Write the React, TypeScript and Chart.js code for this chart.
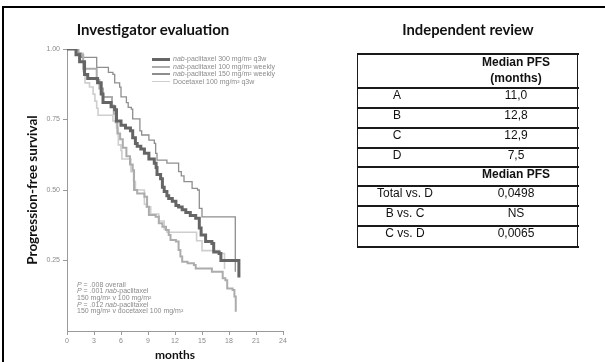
import React, { useEffect, useRef } from 'react';
import { Chart, registerables } from 'chart.js';

Chart.register(...registerables);

// ---- Data ----
const seriesLabels = [
  'nab-paclitaxel 300 mg/m² q3w',
  'nab-paclitaxel 100 mg/m² weekly',
  'nab-paclitaxel 150 mg/m² weekly',
  'Docetaxel 100 mg/m² q3w',
];
const seriesColors = ['#656565', '#acacac', '#8e8e8e', '#cecece'];
const seriesWidths = [3, 2, 1.3, 1.6];

const timesA = [0, 1.0, 1.4, 1.95, 2.3, 3.4, 3.8, 4.0, 4.9, 5.3, 5.5, 6.0, 6.5, 7.05, 7.3, 7.6, 7.8, 8.2, 8.6, 9.1, 9.7, 9.9, 10.0, 10.4, 10.6, 10.8, 11.1, 11.3, 11.7, 12.1, 12.4, 12.8, 13.2, 13.7, 14.3, 14.7, 14.9, 15.4, 16.1, 16.3, 16.9, 17.1, 19.1];
const survA = [1, 0.98, 0.955, 0.91, 0.895, 0.88, 0.84, 0.81, 0.795, 0.785, 0.745, 0.73, 0.72, 0.71, 0.685, 0.665, 0.655, 0.645, 0.63, 0.61, 0.595, 0.58, 0.555, 0.54, 0.51, 0.495, 0.48, 0.47, 0.46, 0.445, 0.44, 0.43, 0.42, 0.41, 0.4, 0.365, 0.34, 0.317, 0.31, 0.28, 0.275, 0.25, 0.19];

const timesB = [0, 1.2, 1.8, 3.3, 3.6, 4.0, 5.0, 5.2, 5.4, 5.6, 5.9, 6.2, 6.6, 7.0, 7.3, 7.45, 7.8, 8.6, 8.9, 9.1, 9.85, 10.2, 10.6, 11.0, 11.3, 11.5, 12.1, 12.4, 12.6, 12.8, 13.4, 14.1, 14.3, 16.1, 17.3, 17.6, 17.8, 18.4, 18.6, 18.75];
const survB = [1, 0.98, 0.93, 0.89, 0.86, 0.83, 0.8, 0.77, 0.74, 0.7, 0.68, 0.65, 0.62, 0.59, 0.57, 0.5, 0.488, 0.476, 0.441, 0.411, 0.405, 0.382, 0.37, 0.358, 0.34, 0.323, 0.317, 0.287, 0.264, 0.246, 0.24, 0.234, 0.222, 0.21, 0.187, 0.18, 0.151, 0.145, 0.122, 0.068];

const timesC = [0, 1.3, 1.6, 3.3, 4.6, 5.1, 5.3, 5.85, 6.0, 6.6, 6.8, 7.15, 7.3, 8.1, 8.3, 9.1, 9.7, 9.85, 10.0, 11.1, 12.4, 12.7, 13.0, 13.9, 14.5, 14.7, 15.0, 18.7];
const survC = [1, 0.985, 0.97, 0.935, 0.917, 0.91, 0.88, 0.865, 0.83, 0.81, 0.793, 0.787, 0.752, 0.71, 0.695, 0.677, 0.665, 0.63, 0.606, 0.595, 0.565, 0.55, 0.53, 0.506, 0.5, 0.435, 0.405, 0.21];

const timesD = [0, 1.0, 1.8, 2.0, 2.5, 2.9, 3.1, 3.3, 3.45, 5.1, 5.5, 5.7, 6.0, 6.1, 7.1, 7.4, 7.6, 8.6, 8.8, 9.3, 10.2, 10.8, 11.1, 14.4, 15.0, 16.9, 17.5];
const survD = [1, 0.985, 0.92, 0.88, 0.865, 0.84, 0.815, 0.79, 0.765, 0.745, 0.72, 0.66, 0.64, 0.61, 0.565, 0.53, 0.5, 0.45, 0.44, 0.415, 0.39, 0.36, 0.35, 0.32, 0.285, 0.275, 0.22];

const seriesTimes = [timesA, timesB, timesC, timesD];
const seriesSurv = [survA, survB, survC, survD];

const xTicks = [0, 3, 6, 9, 12, 15, 18, 21, 24];
const yTicks = [0.25, 0.5, 0.75, 1.0];

const pValueLines = [
  ['P', ' = .008 overall'],
  ['P', ' = .001 ', 'nab', '-paclitaxel'],
  ['', '150 mg/m² v 100 mg/m²'],
  ['P', ' = .012 ', 'nab', '-paclitaxel'],
  ['', '150 mg/m² v docetaxel 100 mg/m²'],
];

const tableGroups = ['A', 'B', 'C', 'D'];
const tableMedians = ['11,0', '12,8', '12,9', '7,5'];
const comparisons = ['Total vs. D', 'B vs. C', 'C vs. D'];
const comparisonP = ['0,0498', 'NS', '0,0065'];

const TITLE_FONT = 'Lato, "Open Sans", sans-serif';
const SMALL_FONT = '"Liberation Sans", Arial, sans-serif';

function KMChart() {
  const ref = useRef<HTMLCanvasElement | null>(null);
  useEffect(() => {
    if (!ref.current) return;
    const datasets = seriesLabels.map((label, i) => ({
      label,
      data: seriesTimes[i].map((t, j) => ({ x: t, y: seriesSurv[i][j] })),
      borderColor: seriesColors[i],
      borderWidth: seriesWidths[i],
      stepped: 'before' as const,
      pointRadius: 0,
      fill: false,
      borderCapStyle: 'butt' as const,
    }));
    const chart = new Chart(ref.current, {
      type: 'line',
      data: { datasets },
      options: {
        animation: false,
        responsive: false,
        devicePixelRatio: 1,
        layout: { padding: { left: 0, top: 49, right: 17, bottom: 0 } },
        plugins: { legend: { display: false }, tooltip: { enabled: false }, title: { display: false } },
        scales: {
          x: {
            type: 'linear',
            min: 0,
            max: 24,
            afterBuildTicks: (axis: any) => { axis.ticks = xTicks.map((v) => ({ value: v })); },
            afterFit: (axis: any) => { axis.height = 31; },
            ticks: { font: { family: SMALL_FONT, size: 7 }, color: '#8a8a8a', padding: 2, maxRotation: 0 },
            grid: { drawOnChartArea: false, drawTicks: true, tickLength: 4, color: '#9a9a9a' },
            border: { display: true, color: '#9a9a9a', width: 1 },
            title: { display: true, text: 'months', font: { family: TITLE_FONT, size: 12, weight: 'bold' }, color: '#111', padding: { top: 0, bottom: 0 } },
          },
          y: {
            type: 'linear',
            min: 0,
            max: 1,
            afterBuildTicks: (axis: any) => { axis.ticks = yTicks.map((v) => ({ value: v })); },
            afterFit: (axis: any) => { axis.width = 67; },
            ticks: { font: { family: SMALL_FONT, size: 7 }, color: '#8a8a8a', padding: 3, callback: (v: any) => Number(v).toFixed(2) },
            grid: { drawOnChartArea: false, drawTicks: true, tickLength: 4, color: '#9a9a9a' },
            border: { display: true, color: '#9a9a9a', width: 1 },
            title: { display: true, text: 'Progression-free survival', font: { family: TITLE_FONT, size: 13.5, weight: 'bold' }, color: '#111', padding: { top: 25, bottom: 0 } },
          },
        },
      } as any,
    });
    return () => chart.destroy();
  }, []);
  return <canvas ref={ref} width={300} height={362} style={{ position: 'absolute', left: 0, top: 0, display: 'block' }} />;
}

export default function App() {
  const rowBounds = [54, 88, 108, 128, 147.5, 167, 186, 206, 226, 246.5];
  const lineColor = '#1a1a1a';
  return (
    <div style={{ position: 'absolute', left: 0, top: 0, width: 605, height: 362, background: '#fff', overflow: 'hidden' }}>
      <KMChart />
      {/* frame */}
      <div style={{ position: 'absolute', left: 2, top: 6, width: 603, height: 2, background: '#000' }} />
      <div style={{ position: 'absolute', left: 2, top: 6, width: 2, height: 356, background: '#000' }} />

      {/* titles */}
      <div style={{ position: 'absolute', left: 43, top: 19, width: 220, textAlign: 'center', font: `bold 15px ${TITLE_FONT}`, color: '#111', lineHeight: '20px' }}>Investigator evaluation</div>
      <div style={{ position: 'absolute', left: 358, top: 19, width: 220, textAlign: 'center', font: `bold 14.8px ${TITLE_FONT}`, color: '#111', lineHeight: '20px' }}>Independent review</div>

      {/* legend */}
      {seriesLabels.map((label, i) => {
        const cy = 59 + i * 7.5;
        const parts = label.split('nab');
        return (
          <React.Fragment key={label}>
            <div style={{ position: 'absolute', left: 152, top: cy - seriesWidths[i] / 2, width: 18, height: seriesWidths[i], background: seriesColors[i] }} />
            <div style={{ position: 'absolute', left: 173, top: cy - 4, height: 8, lineHeight: '8px', whiteSpace: 'nowrap', font: `7px ${SMALL_FONT}`, color: '#8a8a8a' }}>
              {parts.length > 1 ? (<><i>nab</i>{parts[1]}</>) : label}
            </div>
          </React.Fragment>
        );
      })}

      {/* p-values */}
      <div style={{ position: 'absolute', left: 77, top: 281.5, font: `7px ${SMALL_FONT}`, lineHeight: '6.7px', color: '#8a8a8a', whiteSpace: 'nowrap' }}>
        {pValueLines.map((parts, i) => (
          <div key={i}>
            {parts.map((p, j) => ((p === 'P' || p === 'nab') ? <i key={j}>{p}</i> : <span key={j}>{p}</span>))}
          </div>
        ))}
      </div>

      {/* table */}
      {rowBounds.map((y, i) => (
        <div key={'h' + i} style={{ position: 'absolute', left: 357, top: y - 1, width: 222, height: 2, background: lineColor }} />
      ))}
      <div style={{ position: 'absolute', left: 356.5, top: 53, width: 1.5, height: 194.5, background: lineColor }} />
      <div style={{ position: 'absolute', left: 576.5, top: 53, width: 1.5, height: 194.5, background: lineColor }} />

      <div style={{ position: 'absolute', left: 456, top: 54, width: 120, height: 34, textAlign: 'center', font: `bold 12px ${SMALL_FONT}`, lineHeight: '15.6px', paddingTop: 1, color: '#111' }}>
        Median PFS<br />(months)
      </div>
      {tableGroups.map((g, i) => (
        <React.Fragment key={g}>
          <div style={{ position: 'absolute', left: 357, top: rowBounds[i + 1], width: 80, height: rowBounds[i + 2] - rowBounds[i + 1], lineHeight: `${rowBounds[i + 2] - rowBounds[i + 1]}px`, textAlign: 'center', font: `12px ${SMALL_FONT}`, color: '#111' }}>{g}</div>
          <div style={{ position: 'absolute', left: 456, top: rowBounds[i + 1], width: 120, height: rowBounds[i + 2] - rowBounds[i + 1], lineHeight: `${rowBounds[i + 2] - rowBounds[i + 1]}px`, textAlign: 'center', font: `12px ${SMALL_FONT}`, color: '#111' }}>{tableMedians[i]}</div>
        </React.Fragment>
      ))}
      <div style={{ position: 'absolute', left: 456, top: rowBounds[5], width: 120, height: rowBounds[6] - rowBounds[5], lineHeight: `${rowBounds[6] - rowBounds[5]}px`, textAlign: 'center', font: `bold 12px ${SMALL_FONT}`, color: '#111' }}>Median PFS</div>
      {comparisons.map((c, i) => (
        <React.Fragment key={c}>
          <div style={{ position: 'absolute', left: 357, top: rowBounds[i + 6], width: 96, height: rowBounds[i + 7] - rowBounds[i + 6], lineHeight: `${rowBounds[i + 7] - rowBounds[i + 6]}px`, textAlign: 'center', font: `12px ${SMALL_FONT}`, color: '#111' }}>{c}</div>
          <div style={{ position: 'absolute', left: 456, top: rowBounds[i + 6], width: 120, height: rowBounds[i + 7] - rowBounds[i + 6], lineHeight: `${rowBounds[i + 7] - rowBounds[i + 6]}px`, textAlign: 'center', font: `12px ${SMALL_FONT}`, color: '#111' }}>{comparisonP[i]}</div>
        </React.Fragment>
      ))}
    </div>
  );
}
